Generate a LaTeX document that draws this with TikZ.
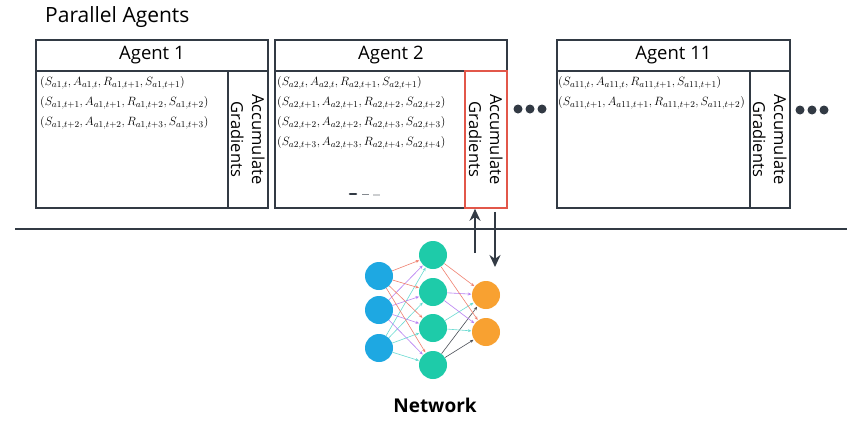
\documentclass[tikz,border=0pt]{standalone}
\usepackage{fontspec}
\setmainfont{Open Sans}
\usetikzlibrary{arrows.meta,calc}
\definecolor{frame}{HTML}{323A44}
\definecolor{accred}{HTML}{E2574A}
\definecolor{inblue}{HTML}{1EA8E2}
\definecolor{hidteal}{HTML}{1ECBA9}
\definecolor{outorange}{HTML}{F8A131}
\definecolor{wred}{HTML}{F0806F}
\definecolor{wpurple}{HTML}{B77EF2}
\definecolor{wcyan}{HTML}{6ADBD2}
\definecolor{wgray}{HTML}{4A4F57}
\tikzset{
  box/.style={draw=frame, line width=1.8pt, inner sep=0pt, anchor=north west},
  titlebox/.style={box, font=\fontsize{18.5}{20}\selectfont},
  acclabel/.style={rotate=-90, font=\fontsize{16.5}{21}\selectfont, align=center},
  tuple/.style={anchor=west, inner sep=0pt, font=\fontsize{12.8}{15}\selectfont},
  dot/.style={circle, fill=frame, inner sep=0pt, minimum size=9pt},
  neuron/.style={circle, inner sep=0pt, minimum size=28pt},
  flow/.style={frame, line width=1.8pt, -{Stealth[length=12pt,width=11pt]}},
  wire/.style={line width=0.6pt, -{Stealth[length=3.5pt,width=3pt]}, shorten >=0.5pt},
}
\begin{document}
\begin{tikzpicture}[x=1pt, y=-1pt]
\useasboundingbox[fill=white] (0,0) rectangle (847,434);

\node[anchor=west, inner sep=0pt, font=\fontsize{21}{24}\selectfont] (heading) at (45,17) {Parallel Agents};

% Agent 1
\node[titlebox, minimum width=232pt, minimum height=31pt] (t1) at (35,39) {Agent 1};
\node[box, minimum width=192pt, minimum height=137pt] (b1) at (35,70) {};
\node[box, minimum width=40pt, minimum height=137pt] (a1) at (227,70) {};
\node[acclabel] at (a1.center) {Accumulate\\Gradients};
\node[tuple] (r11) at (40,83) {$(S_{a1,t}, A_{a1,t}, R_{a1,t+1}, S_{a1,t+1})$};
\node[tuple] (r12) at (40,103) {$(S_{a1,t+1}, A_{a1,t+1}, R_{a1,t+2}, S_{a1,t+2})$};
\node[tuple] (r13) at (40,123) {$(S_{a1,t+2}, A_{a1,t+2}, R_{a1,t+3}, S_{a1,t+3})$};

% Agent 2
\node[titlebox, minimum width=232pt, minimum height=31pt] (t2) at (274,39) {Agent 2};
\node[box, minimum width=190pt, minimum height=137pt] (b2) at (274,70) {};
\node[box, draw=accred, minimum width=42pt, minimum height=137pt] (a2) at (464,70) {};
\node[acclabel] at (a2.center) {Accumulate\\Gradients};
\node[tuple] (r21) at (277,83) {$(S_{a2,t}, A_{a2,t}, R_{a2,t+1}, S_{a2,t+1})$};
\node[tuple] (r22) at (277,103) {$(S_{a2,t+1}, A_{a2,t+1}, R_{a2,t+2}, S_{a2,t+2})$};
\node[tuple] (r23) at (277,123) {$(S_{a2,t+2}, A_{a2,t+2}, R_{a2,t+3}, S_{a2,t+3})$};
\node[tuple] (r24) at (277,143) {$(S_{a2,t+3}, A_{a2,t+3}, R_{a2,t+4}, S_{a2,t+4})$};
% fading continuation marks
\draw[frame, line width=2.6pt, line cap=round] (350,194) -- (356,194);
\draw[frame!60, line width=1.6pt] (362,194.5) -- (369,194.5);
\draw[frame!25, line width=1.2pt] (373,195) -- (380,195);

% Agent 11
\node[titlebox, minimum width=233pt, minimum height=31pt] (t3) at (556,39) {Agent 11};
\node[box, minimum width=193pt, minimum height=137pt] (b3) at (556,70) {};
\node[box, minimum width=40pt, minimum height=137pt] (a3) at (749,70) {};
\node[acclabel] at (a3.center) {Accumulate\\Gradients};
\node[tuple] (r31) at (558,83) {$(S_{a11,t}, A_{a11,t}, R_{a11,t+1}, S_{a11,t+1})$};
\node[tuple] (r32) at (558,103) {$(S_{a11,t+1}, A_{a11,t+1}, R_{a11,t+2}, S_{a11,t+2})$};

% ellipses between and after the agents
\node[dot] (d1) at (518,109) {};
\node[dot] (d2) at (530,109) {};
\node[dot] (d3) at (542,109) {};
\node[dot] (d4) at (800,110) {};
\node[dot] (d5) at (812,110) {};
\node[dot] (d6) at (824,110) {};

% separator
\coordinate (sepL) at (15,229);
\coordinate (sepR) at (847,229);
\draw[frame, line width=1.8pt] (sepL) -- (sepR);

% gradient exchange with the network
\coordinate (upstart) at (475,253);
\coordinate (downend) at (495,267);
\draw[flow] (upstart) -- (upstart |- a2.south);
\draw[flow] (a2.south -| downend) ++(0,3) -- (downend);

% network
\node[neuron, fill=inblue] (i1) at (379,276) {};
\node[neuron, fill=inblue] (i2) at (379,310) {};
\node[neuron, fill=inblue] (i3) at (379,348) {};
\node[neuron, fill=hidteal] (h1) at (433,255) {};
\node[neuron, fill=hidteal] (h2) at (433,292) {};
\node[neuron, fill=hidteal] (h3) at (433,328) {};
\node[neuron, fill=hidteal] (h4) at (433,365) {};
\node[neuron, fill=outorange] (o1) at (486,295) {};
\node[neuron, fill=outorange] (o2) at (486,332) {};

\foreach \h in {h1,h2,h3,h4}{
  \draw[wire, wred] (i1) -- (\h);
  \draw[wire, wpurple] (i2) -- (\h);
  \draw[wire, wcyan] (i3) -- (\h);
}
\foreach \o in {o1,o2}{
  \draw[wire, wred] (h1) -- (\o);
  \draw[wire, wpurple] (h2) -- (\o);
  \draw[wire, wcyan] (h3) -- (\o);
  \draw[wire, wgray] (h4) -- (\o);
}

\node[font=\bfseries\fontsize{19}{21}\selectfont, inner sep=0pt] (netlabel) at (435,405) {Network};
\end{tikzpicture}
\end{document}
